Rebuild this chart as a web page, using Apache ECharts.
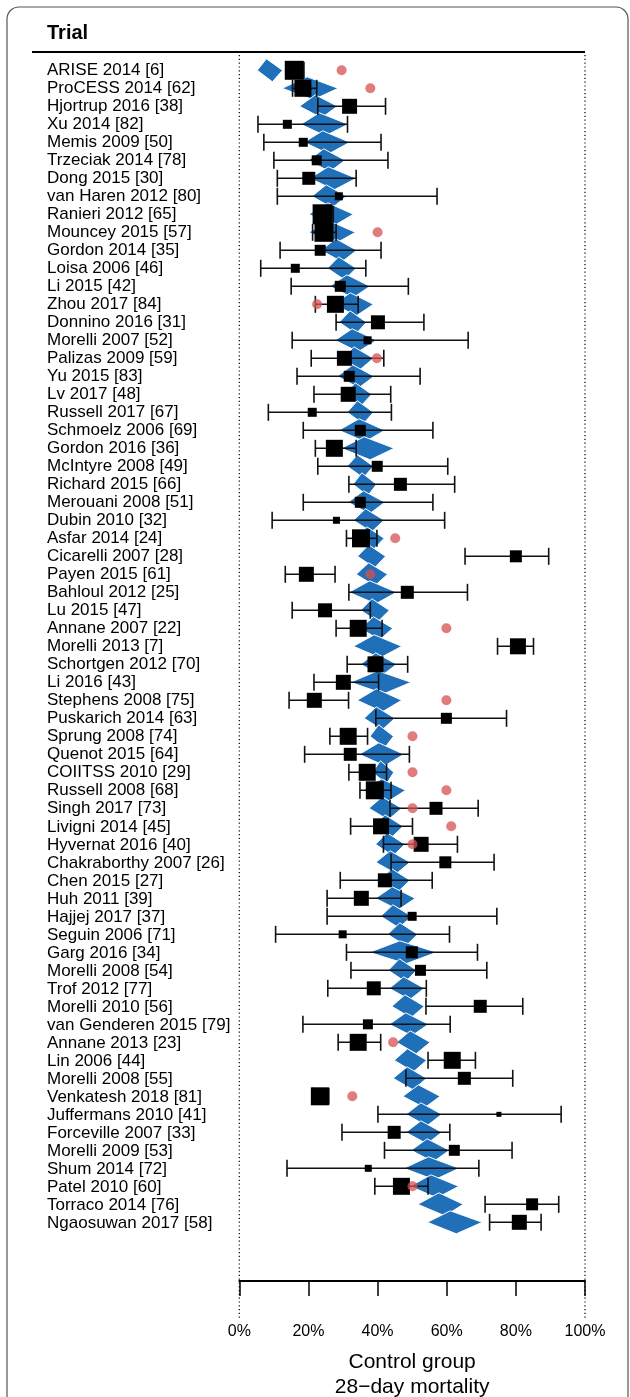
<!DOCTYPE html>
<html>
<head>
<meta charset="utf-8">
<title>Control group 28-day mortality</title>
<script src="https://cdn.jsdelivr.net/npm/echarts@6/dist/echarts.min.js"></script>
<style>
  html, body { margin: 0; padding: 0; background: #fff; }
  #main { width: 630px; height: 1397px; }
</style>
</head>
<body>
<div id="main"></div>
<script>
var trials = [
  'ARISE 2014 [6]', 'ProCESS 2014 [62]', 'Hjortrup 2016 [38]', 'Xu 2014 [82]', 'Memis 2009 [50]',
  'Trzeciak 2014 [78]', 'Dong 2015 [30]', 'van Haren 2012 [80]', 'Ranieri 2012 [65]', 'Mouncey 2015 [57]',
  'Gordon 2014 [35]', 'Loisa 2006 [46]', 'Li 2015 [42]', 'Zhou 2017 [84]', 'Donnino 2016 [31]',
  'Morelli 2007 [52]', 'Palizas 2009 [59]', 'Yu 2015 [83]', 'Lv 2017 [48]', 'Russell 2017 [67]',
  'Schmoelz 2006 [69]', 'Gordon 2016 [36]', 'McIntyre 2008 [49]', 'Richard 2015 [66]', 'Merouani 2008 [51]',
  'Dubin 2010 [32]', 'Asfar 2014 [24]', 'Cicarelli 2007 [28]', 'Payen 2015 [61]', 'Bahloul 2012 [25]',
  'Lu 2015 [47]', 'Annane 2007 [22]', 'Morelli 2013 [7]', 'Schortgen 2012 [70]', 'Li 2016 [43]',
  'Stephens 2008 [75]', 'Puskarich 2014 [63]', 'Sprung 2008 [74]', 'Quenot 2015 [64]', 'COIITSS 2010 [29]',
  'Russell 2008 [68]', 'Singh 2017 [73]', 'Livigni 2014 [45]', 'Hyvernat 2016 [40]', 'Chakraborthy 2007 [26]',
  'Chen 2015 [27]', 'Huh 2011 [39]', 'Hajjej 2017 [37]', 'Seguin 2006 [71]', 'Garg 2016 [34]',
  'Morelli 2008 [54]', 'Trof 2012 [77]', 'Morelli 2010 [56]', 'van Genderen 2015 [79]', 'Annane 2013 [23]',
  'Lin 2006 [44]', 'Morelli 2008 [55]', 'Venkatesh 2018 [81]', 'Juffermans 2010 [41]', 'Forceville 2007 [33]',
  'Morelli 2009 [53]', 'Shum 2014 [72]', 'Patel 2010 [60]', 'Torraco 2014 [76]', 'Ngaosuwan 2017 [58]'
];

// observed control group mortality (%) with 95% CI, and study weight (square size)
var obsMort = [15.9, 18.4, 31.9, 13.9, 18.5, 22.4, 20.1, 28.8, 24.1, 24.5,
  23.4, 16.2, 29.2, 27.8, 40.1, 37.1, 30.4, 31.8, 31.5, 21.1,
  35.0, 27.5, 39.9, 46.6, 35.0, 28.1, 35.2, 80.0, 19.4, 48.6,
  24.8, 34.4, 80.6, 39.4, 30.1, 21.7, 59.9, 31.5, 32.1, 37.0,
  39.2, 56.9, 41.0, 52.6, 59.6, 42.1, 35.3, 50.0, 29.9, 49.9,
  52.4, 38.9, 69.7, 37.2, 34.4, 61.6, 65.1, 23.3, 75.1, 44.8,
  62.2, 37.3, 46.9, 84.7, 81.0];
var obsLow = [14.0, 15.4, 22.7, 5.4, 7.1, 10.0, 11.0, 11.0, 21.6, 21.2,
  11.8, 6.2, 15.0, 22.0, 28.0, 15.3, 20.8, 16.7, 21.6, 8.4,
  18.5, 22.0, 22.7, 31.7, 18.5, 9.5, 31.0, 65.3, 13.3, 31.7,
  15.3, 28.0, 74.7, 31.2, 21.6, 14.4, 39.5, 26.2, 18.9, 31.7,
  34.9, 43.6, 32.2, 41.7, 43.9, 29.2, 25.4, 25.4, 10.5, 31.0,
  32.3, 25.6, 54.0, 18.4, 28.6, 54.6, 48.2, 21.3, 40.1, 29.7,
  42.0, 13.8, 39.2, 71.1, 72.4];
var obsHigh = [18.7, 22.4, 42.3, 31.3, 41.0, 43.0, 33.8, 57.2, 27.2, 28.0,
  41.0, 36.6, 48.9, 34.4, 53.4, 66.2, 41.8, 52.3, 43.8, 44.0,
  56.0, 33.8, 60.3, 62.3, 56.0, 59.4, 39.8, 89.5, 27.7, 66.0,
  37.9, 41.3, 85.1, 48.7, 40.3, 31.6, 77.3, 37.1, 49.2, 42.6,
  43.9, 69.1, 50.1, 63.1, 73.7, 55.8, 46.8, 74.5, 60.8, 68.9,
  71.6, 54.1, 82.0, 61.0, 40.9, 68.3, 79.1, 25.9, 93.1, 60.9,
  78.9, 69.3, 54.6, 92.4, 87.3];
var weights = [19, 17, 15, 9, 9, 10, 13, 8, 20, 19,
  11, 9, 11, 17, 14, 8, 15, 11, 15, 9,
  11, 17, 11, 13, 11, 7, 18, 12, 15, 13,
  14, 17, 16, 16, 15, 15, 11, 17, 13, 17,
  18, 13, 16, 15, 12, 14, 15, 9, 8, 12,
  11, 14, 13, 10, 17, 17, 13, 18, 5, 13,
  11, 7, 17, 12, 15];

// predicted mortality (blue diamonds)
var predMort = [8.7, 20.5, 22.9, 24.0, 25.0, 25.3, 26.6, 26.0, 26.5, 26.8,
  28.8, 29.6, 32.0, 33.0, 32.9, 33.5, 34.0, 33.7, 34.4, 35.0,
  35.5, 37.0, 35.0, 36.3, 36.8, 37.4, 37.8, 38.3, 38.3, 38.6,
  39.2, 39.7, 39.9, 40.3, 40.9, 40.5, 40.5, 41.2, 41.2, 41.7,
  42.0, 42.2, 43.0, 43.6, 44.5, 45.0, 45.1, 45.3, 47.3, 47.3,
  47.2, 48.4, 48.8, 49.0, 50.3, 49.5, 49.4, 52.7, 53.4, 53.4,
  55.2, 55.6, 56.3, 58.6, 61.9];
var predLow = [5.2, 12.4, 17.4, 17.8, 18.7, 20.0, 20.4, 21.0, 20.1, 20.1,
  23.6, 25.5, 26.2, 27.2, 28.9, 27.7, 30.1, 28.4, 30.6, 31.2,
  28.8, 29.5, 31.2, 32.9, 31.5, 33.0, 33.5, 34.2, 33.8, 31.7,
  35.1, 35.0, 33.0, 35.1, 32.2, 34.1, 36.1, 37.8, 34.7, 38.5,
  36.0, 37.5, 38.8, 39.4, 39.5, 40.5, 39.4, 40.9, 42.9, 37.6,
  43.1, 43.4, 44.1, 43.4, 45.5, 44.8, 44.5, 47.3, 48.2, 48.2,
  49.7, 47.6, 49.4, 51.6, 54.4];
var predHigh = [12.5, 28.6, 28.4, 31.5, 32.0, 30.6, 33.8, 31.0, 33.0, 33.6,
  34.0, 33.8, 37.8, 38.8, 36.8, 39.7, 38.8, 39.0, 38.3, 38.8,
  42.1, 44.8, 38.8, 39.7, 42.1, 41.9, 41.9, 42.3, 42.9, 45.5,
  43.4, 44.4, 47.0, 45.5, 49.7, 47.0, 45.0, 44.6, 47.6, 44.7,
  48.1, 47.0, 47.4, 47.9, 49.4, 49.4, 50.9, 49.9, 51.6, 57.1,
  51.3, 53.5, 53.5, 54.7, 55.2, 54.2, 54.2, 58.1, 58.6, 58.6,
  60.8, 63.6, 63.5, 64.8, 70.3];

// reported reference mortality (red dots), null where not shown
var refMort = [29.6, 37.9, null, null, null, null, null, null, null, 40.0,
  null, null, null, 22.5, null, null, 39.8, null, null, null,
  null, null, null, null, null, null, 45.1, null, 37.9, null,
  null, 59.9, null, null, null, 59.9, null, 50.1, null, 50.1,
  59.9, 50.1, 61.3, 50.1, null, null, null, null, null, null,
  null, null, null, null, 44.5, null, null, 32.7, null, null,
  null, null, 50.1, null, null];

var xTicks = [0, 20, 40, 60, 80, 100];

var yMin = -0.85, yMax = 67.26, yDotEnd = 69.4;

var diamondData = trials.map(function (t, i) { return [i, predMort[i], predLow[i], predHigh[i]]; });
var ciData = trials.map(function (t, i) { return [i, obsMort[i], obsLow[i], obsHigh[i]]; });
var squareData = trials.map(function (t, i) { return [obsMort[i], i, weights[i]]; });
var dotData = [];
refMort.forEach(function (v, i) { if (v != null) dotData.push([v, i]); });
var labelData = trials.map(function (t, i) { return [0, i, t]; });

var myChart = echarts.init(document.getElementById('main'));

var option = {
  backgroundColor: '#fff',
  animation: false,
  textStyle: { fontFamily: 'Liberation Sans, Arial, sans-serif' },
  grid: { left: 239.3, right: 45, top: 55, bottom: 116, outerBoundsMode: 'none', containLabel: false },
  xAxis: {
    type: 'value',
    position: 'bottom',
    min: xTicks[0],
    max: xTicks[xTicks.length - 1],
    interval: xTicks[1] - xTicks[0],
    axisLine: { onZero: false, lineStyle: { color: '#000', width: 2 } },
    axisTick: { length: 15, lineStyle: { color: '#000', width: 1.5 } },
    splitLine: { show: false },
    axisLabel: { formatter: '{value}%', fontSize: 16, color: '#000', margin: 43 },
    name: 'Control group\n28\u2212day mortality',
    nameLocation: 'middle',
    nameGap: 69,
    nameTextStyle: { fontSize: 21, color: '#000', lineHeight: 25 }
  },
  yAxis: { type: 'value', inverse: true, min: yMin, max: yMax, show: false },
  graphic: [
    { type: 'rect', shape: { x: 7, y: 7, width: 621, height: 1420, r: 12 },
      style: { fill: 'none', stroke: '#555', lineWidth: 1.2 } },
    { type: 'text', x: 47, y: 33, style: { text: 'Trial', fontSize: 20, fontWeight: 'bold',
      fill: '#000', verticalAlign: 'middle', fontFamily: 'Liberation Sans, Arial, sans-serif' } },
    { type: 'line', shape: { x1: 32, y1: 52, x2: 585, y2: 52 }, style: { stroke: '#000', lineWidth: 2 } }
  ],
  series: [
    {
      // dotted reference lines at the axis ends
      type: 'custom',
      z: 1,
      data: [[xTicks[0]], [xTicks[xTicks.length - 1]]],
      encode: { x: 0 },
      renderItem: function (params, api) {
        var a = api.coord([api.value(0), yMin]);
        var b = api.coord([api.value(0), yDotEnd]);
        return { type: 'line', shape: { x1: a[0], y1: a[1], x2: b[0], y2: b[1] },
          style: { stroke: '#000', lineWidth: 1.2, lineDash: [1.2, 2.6] } };
      }
    },
    {
      type: 'custom',
      z: 2,
      data: diamondData,
      encode: { x: [1, 2, 3], y: 0 },
      renderItem: function (params, api) {
        var i = api.value(0);
        var c = api.coord([api.value(1), i]);
        var l = api.coord([api.value(2), i]);
        var r = api.coord([api.value(3), i]);
        var h = 11.5, sk = 3;
        return {
          type: 'polygon',
          shape: { points: [[l[0], c[1]], [c[0] - sk, c[1] - h], [r[0], c[1]], [c[0] + sk, c[1] + h]] },
          style: { fill: '#1f70b8', stroke: '#fff', lineWidth: 1 }
        };
      }
    },
    {
      type: 'custom',
      z: 3,
      data: ciData,
      encode: { x: [1, 2, 3], y: 0 },
      renderItem: function (params, api) {
        var i = api.value(0);
        var l = api.coord([api.value(2), i]);
        var r = api.coord([api.value(3), i]);
        var ch = 8.5;
        var st = { stroke: '#111', lineWidth: 1.6 };
        return {
          type: 'group',
          children: [
            { type: 'line', shape: { x1: l[0], y1: l[1], x2: r[0], y2: r[1] }, style: st },
            { type: 'line', shape: { x1: l[0], y1: l[1] - ch, x2: l[0], y2: l[1] + ch }, style: st },
            { type: 'line', shape: { x1: r[0], y1: r[1] - ch, x2: r[0], y2: r[1] + ch }, style: st }
          ]
        };
      }
    },
    {
      type: 'scatter',
      z: 4,
      symbol: 'rect',
      symbolSize: function (v) { return v[2]; },
      itemStyle: { color: '#000', opacity: 1 },
      data: squareData
    },
    {
      type: 'scatter',
      z: 5,
      symbol: 'circle',
      symbolSize: 10,
      itemStyle: { color: 'rgba(214,80,80,0.75)', opacity: 1 },
      data: dotData
    },
    {
      // trial names
      type: 'custom',
      z: 6,
      data: labelData,
      encode: { y: 1 },
      renderItem: function (params, api) {
        var p = api.coord([0, api.value(1)]);
        return {
          type: 'text',
          x: 47,
          y: p[1] + 0.5,
          style: { text: trials[params.dataIndex], fontSize: 17, fill: '#000',
            verticalAlign: 'middle', align: 'left', fontFamily: 'Liberation Sans, Arial, sans-serif' }
        };
      }
    }
  ]
};

myChart.setOption(option);
</script>
</body>
</html>
